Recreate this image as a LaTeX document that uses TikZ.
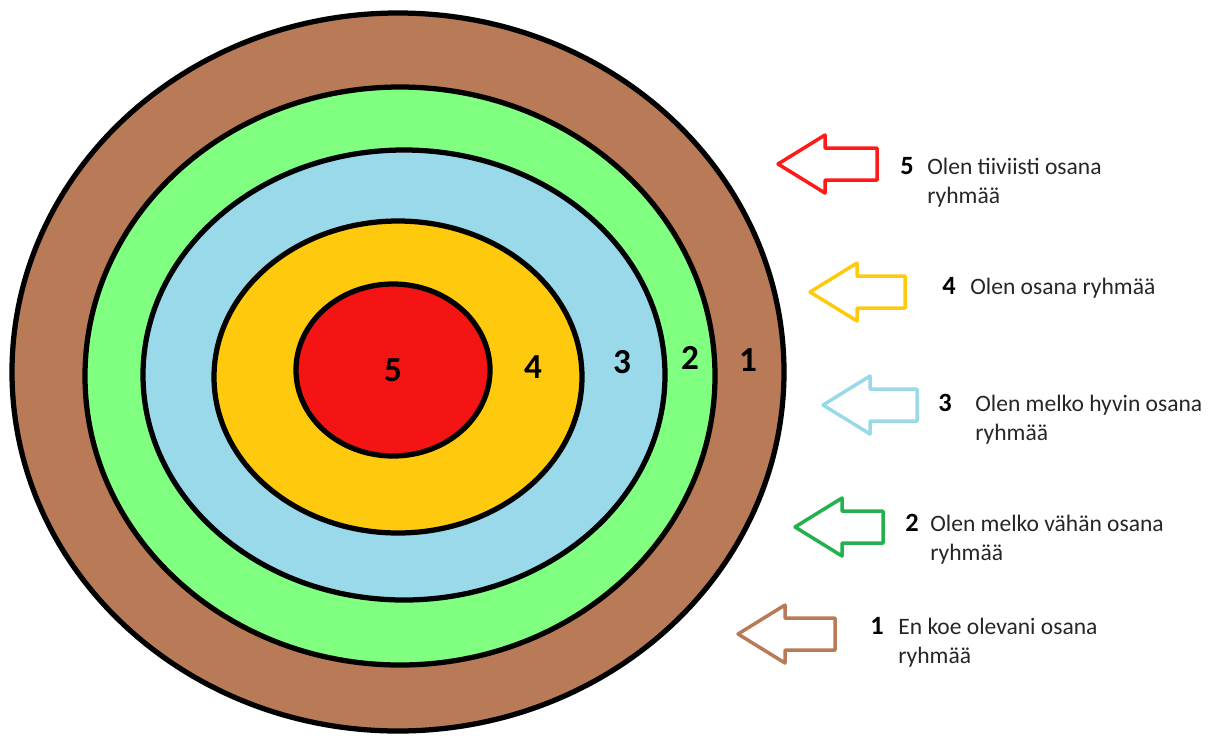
\documentclass[tikz,border=0pt]{standalone}
\usepackage{fontspec}
\setmainfont{Carlito}
\usetikzlibrary{positioning}
\definecolor{ringbrown}{HTML}{B97A57}
\definecolor{ringgreen}{HTML}{80FF80}
\definecolor{ringblue}{HTML}{99D9EA}
\definecolor{ringyellow}{HTML}{FFC90E}
\definecolor{ringred}{HTML}{F51414}
\definecolor{arrowred}{HTML}{FF1A1A}
\definecolor{arrowgreen}{HTML}{22B14C}
\begin{document}
\begin{tikzpicture}[
        x=0.02cm, y=-0.02cm,
        % Estilo para los anillos de la diana
        ring/.style={draw=black, line width=0.105cm},
        % Numeros dentro de la diana
        ringnum/.style={font=\fontsize{20}{23}\selectfont\bfseries, inner sep=0pt},
        % Numeros y textos de la leyenda
        keynum/.style={font=\fontsize{15}{18}\selectfont\bfseries, inner sep=0pt, anchor=base west},
        keytext/.style={font=\fontsize{13.4}{16.4}\selectfont, text=black!85, align=left, inner sep=0pt, anchor=base west},
        % Flecha hueca hacia la izquierda (punta en el origen)
        pics/leftarrow/.style 2 args={code={
            \draw[line width=0.07cm, line join=round, draw=#1]
                (0,0) -- (47,-29) -- (47,-16) -- (#2,-16) -- (#2,16) -- (47,16) -- (47,29) -- cycle;
        }}
    ]

        \useasboundingbox (0,0) rectangle (1211,735);

        % 1. Anillos, de fuera hacia dentro
        \draw[ring, fill=ringbrown] (398,372) ellipse [x radius=386, y radius=359];
        \draw[ring, fill=ringgreen] (400,376) ellipse [x radius=315, y radius=289];
        \draw[ring, fill=ringblue] (404,375) ellipse [x radius=261, y radius=225];
        \draw[ring, fill=ringyellow] (398,377) ellipse [x radius=184, y radius=156];
        \draw[ring, fill=ringred] (393,370) ellipse [x radius=97, y radius=86];

        % 2. Numeros de los anillos
        \node[ringnum] (r5) at (393,370) {5};
        \node[ringnum] (r4) at (533,367) {4};
        \node[ringnum] (r3) at (622,362) {3};
        \node[ringnum] (r2) at (690,358) {2};
        \node[ringnum] (r1) at (748,360) {1};

        % 3. Flechas de la leyenda
        \pic at (778,164) {leftarrow={arrowred}{99}};
        \pic at (810,292) {leftarrow={ringyellow}{95}};
        \pic at (823,405) {leftarrow={ringblue}{94}};
        \pic at (795,527) {leftarrow={arrowgreen}{88}};
        \pic at (738,634) {leftarrow={ringbrown}{97}};

        % 4. Textos de la leyenda (el ancla base es la de la ultima linea)
        \node[keynum] (k5) at (900,174) {5};
        \node[keytext] (t5) at (927,203) {Olen tiiviisti osana\\ryhmää};

        \node[keynum] (k4) at (942,294) {4};
        \node[keytext] (t4) at (970,294) {Olen osana ryhmää};

        \node[keynum] (k3) at (938,411) {3};
        \node[keytext] (t3) at (975,440) {Olen melko hyvin osana\\ryhmää};

        \node[keynum] (k2) at (905,531) {2};
        \node[keytext] (t2) at (930,560) {Olen melko vähän osana\\ryhmää};

        \node[keynum] (k1) at (870,634) {1};
        \node[keytext] (t1) at (898,663) {En koe olevani osana\\ryhmää};

    \end{tikzpicture}
\end{document}
